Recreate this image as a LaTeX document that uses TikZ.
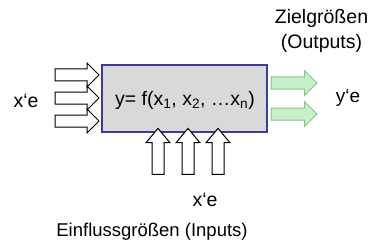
\documentclass[tikz,border=0pt]{standalone}
\usepackage{fontspec}
\setmainfont{Liberation Sans}
\usetikzlibrary{shapes.arrows}
\definecolor{boxrule}{RGB}{60,60,150}
\definecolor{boxfill}{RGB}{217,217,217}
\definecolor{outfill}{RGB}{200,240,200}
\definecolor{outrule}{RGB}{140,195,140}
\tikzset{
  model/.style={rectangle,draw=boxrule,line width=1.2pt,fill=boxfill,minimum width=165pt,minimum height=67pt,inner sep=0pt},
  inarrow/.style={single arrow,draw=black,line width=1pt,fill=white,inner sep=0pt,inner ysep=5.5pt,minimum height=44pt,single arrow head extend=6pt,single arrow tip angle=90},
  uparrow/.style={inarrow,rotate=90,minimum height=46pt,single arrow tip angle=80},
  outarrow/.style={inarrow,draw=outrule,fill=outfill,minimum height=46pt,single arrow head extend=6.5pt},
  lbl/.style={font=\fontsize{19.5}{25}\selectfont,inner sep=0pt,align=center}
}
\begin{document}
\begin{tikzpicture}[x=1pt,y=-1pt]
  \useasboundingbox (0,0) rectangle (379,251);
  \node[model] (fbox) at (184.5,98.5) {};
  \node[inarrow] (in1) at (74,75) {};
  \node[inarrow] (in2) at (74,98) {};
  \node[inarrow] (in3) at (74,121) {};
  \node[uparrow] (up1) at (158,155) {};
  \node[uparrow] (up2) at (188,155) {};
  \node[uparrow] (up3) at (218,155) {};
  \node[outarrow] (out1) at (291,83) {};
  \node[outarrow] (out2) at (291,114) {};
  \node[lbl] (func) at (185,100) {y= f(x\textsubscript{1}, x\textsubscript{2}, …x\textsubscript{n})};
  \node[lbl] (xleft) at (26,101) {x‘e};
  \node[lbl,font=\fontsize{19}{25}\selectfont] (yright) at (348,98) {y‘e};
  \node[lbl] (xdown) at (205,200) {x‘e};
  \node[lbl] (outlbl) at (321.5,30.5) {Zielgrößen\\(Outputs)};
  \node[lbl,font=\fontsize{18.5}{25}\selectfont] (inlbl) at (152,232) {Einflussgrößen (Inputs)};
\end{tikzpicture}
\end{document}
